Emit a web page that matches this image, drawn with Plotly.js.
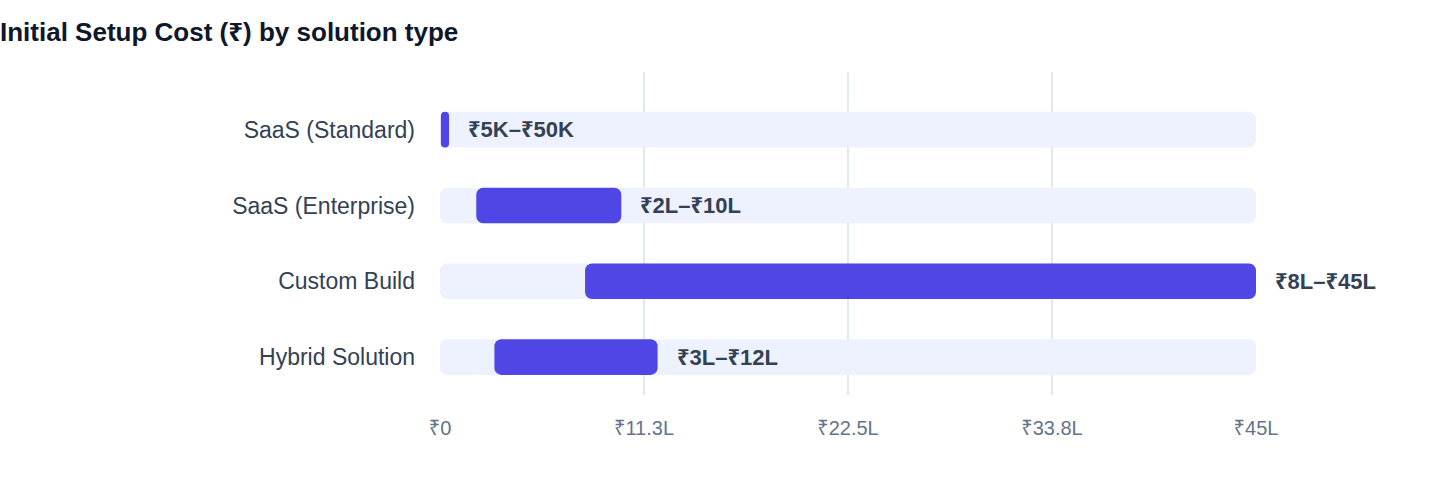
<!DOCTYPE html>
<html>
<head>
<meta charset="utf-8">
<script src="https://cdn.plot.ly/plotly-3.0.1.min.js"></script>
<style>
  html, body { margin: 0; padding: 0; background: #fff; }
  #plot { width: 1440px; height: 484px; }
</style>
</head>
<body>
<div id="plot"></div>
<script>
// costs in lakh rupees
var categories = ['SaaS (Standard)', 'SaaS (Enterprise)', 'Custom Build', 'Hybrid Solution']
var minCost = [0.05, 2, 8, 3]
var maxCost = [0.5, 10, 45, 12]
var rangeLabels = ['₹5K–₹50K', '₹2L–₹10L', '₹8L–₹45L', '₹3L–₹12L']
var scaleMax = 45
var tickVals = [0, 11.25, 22.5, 33.75, 45]
var tickText = ['₹0', '₹11.3L', '₹22.5L', '₹33.8L', '₹45L']

function draw() {
  try {
    var font = '"Liberation Sans", Arial, "Noto Sans", sans-serif'

    // light track behind each bar, full scale
    var track = {
      type: 'bar',
      orientation: 'h',
      y: categories,
      x: categories.map(function () { return scaleMax }),
      base: 0,
      width: 0.47,
      marker: { color: '#EEF2FF', cornerradius: 7 },
      hoverinfo: 'skip',
      showlegend: false
    }

    // actual cost range
    var range = {
      type: 'bar',
      orientation: 'h',
      y: categories,
      x: maxCost.map(function (v, i) { return v - minCost[i] }),
      base: minCost,
      width: 0.47,
      marker: { color: '#4F46E5', cornerradius: 7 },
      text: rangeLabels,
      textposition: 'none',
      hovertemplate: '%{y}: %{text}<extra></extra>',
      showlegend: false
    }

    // range labels just past the end of each bar
    var labels = categories.map(function (c, i) {
      return {
        x: maxCost[i], y: c,
        xref: 'x', yref: 'y',
        text: '<b>' + rangeLabels[i] + '</b>',
        showarrow: false,
        xanchor: 'left',
        xshift: 17,
        font: { family: font, size: 22, color: '#334155' }
      }
    })

    var layout = {
      width: 1440,
      height: 484,
      margin: { l: 440, r: 184, t: 72, b: 89 },
      paper_bgcolor: '#ffffff',
      plot_bgcolor: '#ffffff',
      barmode: 'overlay',
      font: { family: font, color: '#334155' },
      title: {
        text: 'Initial Setup Cost (₹) by solution type',
        x: 0, xref: 'container', xanchor: 'left',
        y: 0.934, yref: 'container', yanchor: 'middle',
        font: { family: font, size: 26, color: '#0F172A', weight: 'bold' }
      },
      annotations: labels,
      xaxis: {
        range: [0, scaleMax],
        tickvals: tickVals,
        ticktext: tickText,
        showgrid: true,
        gridcolor: '#E2E8F0',
        gridwidth: 1.5,
        zeroline: false,
        showline: false,
        ticks: '',
        ticklabelstandoff: 19,
        tickfont: { family: font, size: 20, color: '#64748B' },
        fixedrange: true
      },
      yaxis: {
        type: 'category',
        range: [3.5, -0.76],
        showgrid: false,
        zeroline: false,
        showline: false,
        ticks: '',
        ticklabelstandoff: 24,
        tickfont: { family: font, size: 23, color: '#334155' },
        fixedrange: true
      }
    }

    Plotly.newPlot('plot', [track, range], layout, { displayModeBar: false, staticPlot: true })
  } catch (err) {
    console.error(err)
  }
}

draw()
</script>
</body>
</html>
